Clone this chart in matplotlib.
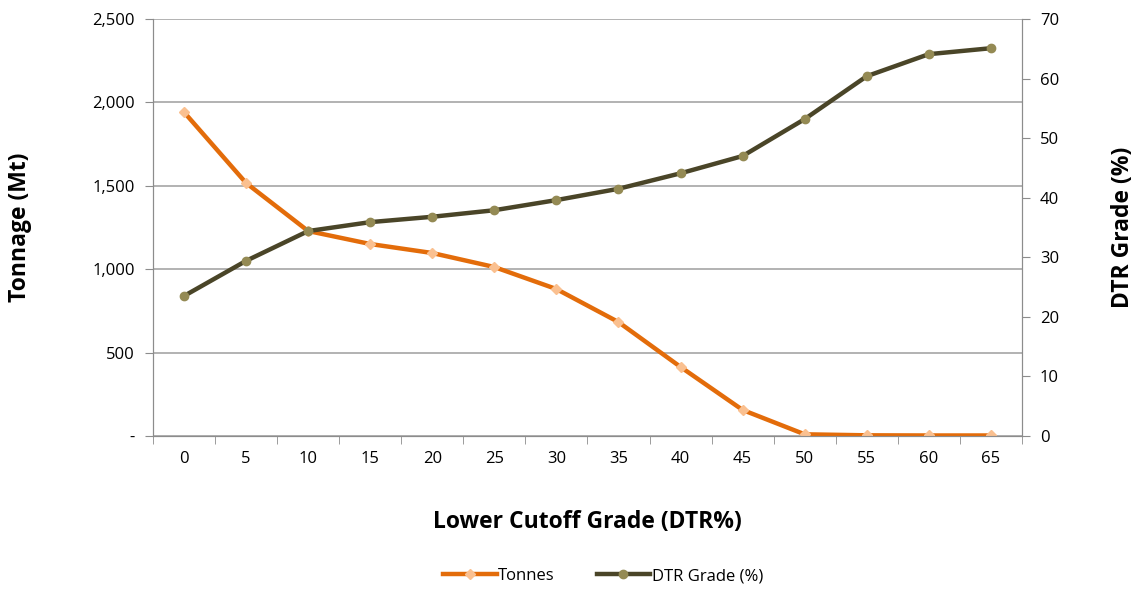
import matplotlib.pyplot as plt
from matplotlib.ticker import FuncFormatter

# =========================================
# DATA
# =========================================
cutoff = [0, 5, 10, 15, 20, 25, 30, 35, 40, 45, 50, 55, 60, 65]
tonnes = [1942, 1517, 1229, 1151, 1097, 1013, 881, 683, 414, 156, 10, 4, 3, 3]
dtr_grade = [23.5, 29.4, 34.4, 35.9, 36.8, 37.9, 39.6, 41.5, 44.1, 47.0,
             53.2, 60.4, 64.1, 65.1]

# =========================================
# STYLE
# =========================================
plt.rcParams['font.family'] = ['Open Sans', 'DejaVu Sans']
AXIS_GREY  = '#8c8c8c'
GRID_GREY  = '#a6a6a6'
ORANGE     = '#e36c0a'
ORANGE_MK  = '#fac090'
DARK       = '#4a4528'
OLIVE_MK   = '#948a54'

fig = plt.figure(figsize=(11.38, 5.89), dpi=100)
ax1 = fig.add_axes([0.1344, 0.2598, 0.7636, 0.7079])
ax2 = ax1.twinx()

pos = list(range(len(cutoff)))

l1, = ax1.plot(pos, tonnes, color=ORANGE, lw=3.2, marker='D', ms=5,
               mfc=ORANGE_MK, mec=ORANGE_MK, label='Tonnes', zorder=3)
l2, = ax2.plot(pos, dtr_grade, color=DARK, lw=3.2, marker='o', ms=6,
               mfc=OLIVE_MK, mec=OLIVE_MK, label='DTR Grade (%)', zorder=3)

# left axis
ax1.set_ylim(0, 2500)
ax1.set_yticks(range(0, 2501, 500))
ax1.yaxis.set_major_formatter(FuncFormatter(lambda v, p: '-' if v == 0 else f'{int(v):,}'))
ax1.grid(axis='y', color=GRID_GREY, lw=1.2)
ax1.set_axisbelow(True)

# right axis
ax2.set_ylim(0, 70)
ax2.set_yticks(range(0, 71, 10))

# x axis - categories, ticks between them
ax1.set_xlim(-0.5, len(cutoff) - 0.5)
ax1.set_xticks(pos)
ax1.set_xticklabels([str(c) for c in cutoff])
ax1.set_xticks([p - 0.5 for p in pos] + [len(cutoff) - 0.5], minor=True)
ax1.tick_params(axis='x', which='major', length=0, pad=11)
ax1.tick_params(axis='x', which='minor', length=6, color=AXIS_GREY, direction='out')

for ax in (ax1, ax2):
    for s in ax.spines.values():
        s.set_color(AXIS_GREY)
    ax.spines['top'].set_visible(False)
    ax.tick_params(axis='y', length=6, color=AXIS_GREY, labelsize=12, pad=7)
    ax.tick_params(axis='x', labelsize=12)

ax1.set_ylabel('Tonnage (Mt)', fontsize=16.5, fontweight='bold')
ax1.yaxis.set_label_coords(-0.139, 0.5)
ax2.set_ylabel('DTR Grade (%)', fontsize=16.5, fontweight='bold')
ax2.yaxis.set_label_coords(1.102, 0.5)
ax1.set_xlabel('Lower Cutoff Grade (DTR%)', fontsize=16.5, fontweight='bold')
ax1.xaxis.set_label_coords(0.5, -0.177)

fig.legend(handles=[l1, l2], loc='center', bbox_to_anchor=(0.53, 0.022),
           ncol=2, frameon=False, fontsize=12, handlelength=3.2, columnspacing=2.5,
           handletextpad=0.1)

plt.savefig('out.png', dpi=100)
